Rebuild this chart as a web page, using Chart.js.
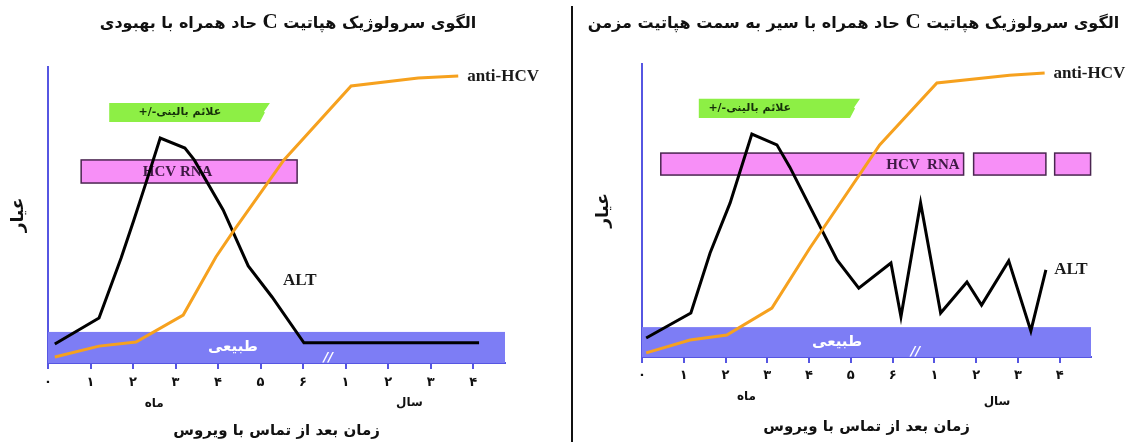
<!DOCTYPE html>
<html lang="fa">
<head>
<meta charset="utf-8">
<script src="https://cdn.jsdelivr.net/npm/chart.js@4.4.1/dist/chart.umd.min.js"></script>
<style>
  html, body { margin: 0; padding: 0; background: #fff; }
  #page { position: relative; width: 1131px; height: 442px; overflow: hidden; }
  canvas { position: absolute; top: 0; }
  .title { position: absolute; top: 9px; font-family: "DejaVu Sans", sans-serif; font-weight: bold;
           font-size: 16px; color: #111; white-space: nowrap; direction: rtl; text-align: center; }
  .title b { font-family: "Liberation Serif", serif; font-size: 21px; }
  #divider { position: absolute; left: 571px; top: 6px; width: 2px; height: 436px; background: #111; }
</style>
</head>
<body>
<div id="page">
  <canvas id="acute" width="572" height="442" style="left:0"></canvas>
  <canvas id="chronic" width="558" height="442" style="left:573px"></canvas>
  <div class="title" style="left:88px;width:400px">الگوی سرولوژیک هپاتیت <b>C</b> حاد همراه با بهبودی</div>
  <div class="title" style="left:576px;width:555px">الگوی سرولوژیک هپاتیت <b>C</b> حاد همراه با سیر به سمت هپاتیت مزمن</div>
  <div id="divider"></div>
</div>
<script>
// x axis: months 0..6, then (after the break) years 1..4
const TICK_VALUES = [0, 1, 2, 3, 4, 5, 6, 7, 8, 9, 10];
const TICK_LABELS = ['۰', '۱', '۲', '۳', '۴', '۵', '۶', '۱', '۲', '۳', '۴'];
const X_MAX = 10.75;

// left: acute hepatitis C with recovery
const ALT_A_X = [0.16, 1.2, 1.72, 2.02, 2.31, 2.64, 3.22, 3.44, 4.12, 4.71, 5.27, 6.02, 10.14];
const ALT_A_Y = [6.4, 15.2, 35.5, 48.3, 61.1, 76.0, 72.6, 68.6, 51.7, 32.8, 22.3, 6.8, 6.8];
const ANTI_A_X = [0.16, 1.2, 2.07, 3.18, 3.95, 4.35, 5.55, 7.13, 8.71, 9.65];
const ANTI_A_Y = [2.0, 5.7, 7.1, 16.2, 35.8, 44.3, 68.6, 93.6, 96.3, 97.0];
const RNA_A_FROM = [0.78];
const RNA_A_TO = [5.86];
const RNA_A_RANGE = [60.8, 68.6];
const SYMPT_A = [1.44, 5.22];
const SYMPT_A_RANGE = [81.4, 87.8];
const NORMAL_A = 10.5;

// right: acute hepatitis C progressing to chronic
const ALT_B_X = [0.10, 1.17, 1.63, 2.11, 2.63, 3.23, 3.54, 4.67, 5.19, 5.96, 6.20, 6.67, 7.15, 7.78, 8.13, 8.78, 9.31, 9.67];
const ALT_B_Y = [6.5, 15.0, 35.5, 52.6, 76.1, 72.4, 64.8, 33.1, 23.5, 32.1, 13.7, 52.6, 15.0, 25.6, 17.7, 32.8, 8.9, 29.7];
const ANTI_B_X = [0.10, 1.15, 2.03, 3.11, 4.02, 5.69, 7.06, 8.8, 9.64];
const ANTI_B_Y = [1.4, 5.8, 7.5, 16.7, 37.2, 72.4, 93.5, 96.2, 96.9];
const RNA_B_FROM = [0.45, 7.94, 9.88];
const RNA_B_TO = [7.70, 9.67, 10.74];
const RNA_B_RANGE = [62.1, 69.6];
const SYMPT_B = [1.36, 5.22];
const SYMPT_B_RANGE = [81.6, 88.1];
const NORMAL_B = 10.2;

const BLUE = '#5656e2';
const BAND = '#7d7df5';
const ORANGE = '#f6a11e';
const FA = '"DejaVu Sans", sans-serif';
const SERIF = '"Liberation Serif", "Times New Roman", serif';

function pts(xs, ys) { return xs.map((x, i) => ({ x: x, y: ys[i] })); }

// background bands / boxes and the free text labels
const decor = {
  id: 'decor',
  beforeDatasetsDraw(chart, args, o) {
    const { ctx, scales: { x, y } } = chart;
    ctx.save();
    // normal range band
    const bx0 = x.getPixelForValue(0), bx1 = x.getPixelForValue(X_MAX);
    const by = y.getPixelForValue(o.normal), b0 = y.getPixelForValue(0);
    ctx.fillStyle = BAND;
    ctx.fillRect(bx0, by, bx1 - bx0, b0 - by);
    ctx.fillStyle = '#fff';
    ctx.font = 'bold 15px ' + FA;
    ctx.textAlign = 'center';
    ctx.textBaseline = 'middle';
    ctx.fillText('طبیعی', x.getPixelForValue(o.normalText[0]), y.getPixelForValue(o.normalText[1]));
    ctx.font = 'italic bold 13px ' + FA;
    ctx.fillText('//', x.getPixelForValue(o.brk), b0 - 5);

    // HCV RNA boxes
    const ry0 = y.getPixelForValue(o.rnaRange[1]), ry1 = y.getPixelForValue(o.rnaRange[0]);
    ctx.fillStyle = '#f78ff7';
    ctx.strokeStyle = '#4a2550';
    ctx.lineWidth = 1.5;
    o.rnaFrom.forEach((f, i) => {
      const a = x.getPixelForValue(f), b = x.getPixelForValue(o.rnaTo[i]);
      ctx.fillRect(a, ry0, b - a, ry1 - ry0);
      ctx.strokeRect(a, ry0, b - a, ry1 - ry0);
    });
    ctx.fillStyle = '#3e1a44';
    ctx.font = 'bold 15px ' + SERIF;
    ctx.textAlign = o.rnaAlign;
    ctx.fillText(o.rnaText, x.getPixelForValue(o.rnaTextX) + (o.rnaAlign === 'right' ? -4 : 0), (ry0 + ry1) / 2 + 1);

    // clinical symptoms flag
    const fx0 = x.getPixelForValue(o.sympt[0]), fx1 = x.getPixelForValue(o.sympt[1]);
    const fy0 = y.getPixelForValue(o.symptRange[1]), fy1 = y.getPixelForValue(o.symptRange[0]);
    ctx.fillStyle = '#8def45';
    ctx.beginPath();
    ctx.moveTo(fx0, fy0);
    ctx.lineTo(fx1, fy0);
    ctx.lineTo(fx1 - 6, fy0 + (fy1 - fy0) * 0.45);
    ctx.lineTo(fx1 - 5, fy0 + (fy1 - fy0) * 0.5);
    ctx.lineTo(fx1 - 10, fy1);
    ctx.lineTo(fx0, fy1);
    ctx.closePath();
    ctx.fill();
    ctx.fillStyle = '#16300a';
    ctx.font = 'bold 11px ' + FA;
    ctx.textAlign = 'center';
    ctx.direction = 'rtl';
    ctx.fillText('علائم بالینی-/+', x.getPixelForValue(o.symptText), (fy0 + fy1) / 2);
    ctx.direction = 'ltr';

    // month / year captions under the tick labels
    ctx.fillStyle = '#111';
    ctx.font = 'bold 12px ' + FA;
    ctx.fillText('ماه', x.getPixelForValue(2.5), b0 + o.monthDy);
    ctx.fillText('سال', x.getPixelForValue(8.5), b0 + o.yearDy);
    ctx.restore();
  },
  afterDatasetsDraw(chart, args, o) {
    const { ctx, scales: { x, y } } = chart;
    ctx.save();
    ctx.fillStyle = '#1a1a1a';
    ctx.font = 'bold 17px ' + SERIF;
    ctx.textAlign = 'left';
    ctx.textBaseline = 'middle';
    ctx.fillText('anti-HCV', x.getPixelForValue(o.antiLabel[0]), y.getPixelForValue(o.antiLabel[1]));
    ctx.fillText('ALT', x.getPixelForValue(o.altLabel[0]), y.getPixelForValue(o.altLabel[1]));
    ctx.restore();
  }
};

function makeChart(id, alt, anti, geo, deco) {
  return new Chart(document.getElementById(id), {
    type: 'line',
    data: {
      datasets: [
        { label: 'anti-HCV', data: anti, borderColor: ORANGE, borderWidth: 3, pointRadius: 0, tension: 0 },
        { label: 'ALT', data: alt, borderColor: '#000', borderWidth: 3, pointRadius: 0, tension: 0,
          borderJoinStyle: 'miter' }
      ]
    },
    options: {
      responsive: false,
      animation: false,
      events: [],
      layout: { padding: { left: geo.padLeft, right: geo.padRight, top: geo.top, bottom: 0 } },
      plugins: { legend: { display: false }, tooltip: { enabled: false }, decor: deco },
      scales: {
        x: {
          type: 'linear', min: 0, max: X_MAX,
          afterBuildTicks: s => { s.ticks = TICK_VALUES.map(v => ({ value: v })); },
          afterFit: s => { s.height = geo.xHeight; },
          ticks: { autoSkip: false, maxRotation: 0, padding: geo.tickPad, color: '#111',
                   font: { family: FA, size: 13, weight: 'bold' },
                   callback: (v, i) => TICK_LABELS[i] },
          grid: { display: true, drawOnChartArea: false, drawTicks: true, tickLength: 6, color: BLUE, lineWidth: 2 },
          border: { display: true, color: BLUE, width: 2 },
          title: { display: true, text: 'زمان بعد از تماس با ویروس', color: '#111',
                   font: { family: FA, size: 15, weight: 'bold' }, padding: { top: 0, bottom: geo.titlePad } }
        },
        y: {
          min: 0, max: 100,
          afterFit: s => { s.width = geo.yWidth; },
          ticks: { display: false },
          grid: { display: false },
          border: { display: true, color: BLUE, width: 2 },
          title: { display: true, text: 'عیار', color: '#111',
                   font: { family: FA, size: 17, weight: 'bold' }, padding: { top: 0, bottom: 0 } }
        }
      }
    },
    plugins: [decor]
  });
}

makeChart('acute', pts(ALT_A_X, ALT_A_Y), pts(ANTI_A_X, ANTI_A_Y),
  { padLeft: 8, yWidth: 40, padRight: 67, top: 67, xHeight: 79, tickPad: 6, titlePad: 2 },
  { normal: NORMAL_A, normalText: [4.35, 5.4], brk: 6.59,
    rnaFrom: RNA_A_FROM, rnaTo: RNA_A_TO, rnaRange: RNA_A_RANGE, rnaText: 'HCV RNA', rnaTextX: 3.05, rnaAlign: 'center',
    sympt: SYMPT_A, symptRange: SYMPT_A_RANGE, symptText: 3.1,
    monthDy: 41, yearDy: 40,
    antiLabel: [9.86, 96.6], altLabel: [5.53, 28] });

makeChart('chronic', pts(ALT_B_X, ALT_B_Y), pts(ANTI_B_X, ANTI_B_Y),
  { padLeft: 20, yWidth: 49, padRight: 40, top: 64, xHeight: 85, tickPad: 5, titlePad: 6 },
  { normal: NORMAL_B, normalText: [4.67, 5.1], brk: 6.55,
    rnaFrom: RNA_B_FROM, rnaTo: RNA_B_TO, rnaRange: RNA_B_RANGE, rnaText: 'HCV  RNA', rnaTextX: 7.70, rnaAlign: 'right',
    sympt: SYMPT_B, symptRange: SYMPT_B_RANGE, symptText: 2.58,
    monthDy: 40, yearDy: 45,
    antiLabel: [9.85, 96.6], altLabel: [9.87, 29.7] });
</script>
</body>
</html>
